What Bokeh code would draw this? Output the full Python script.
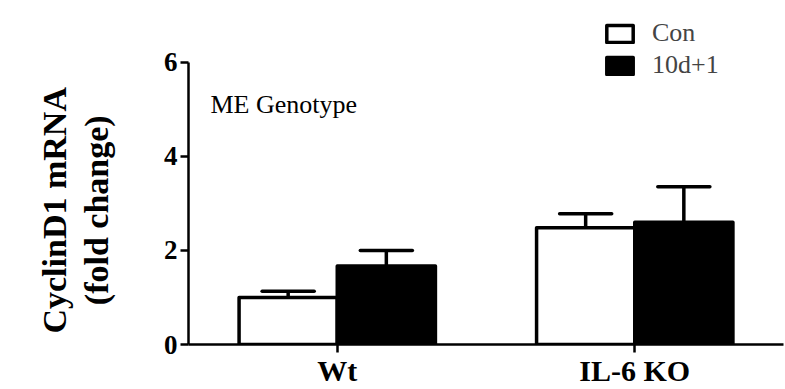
import math

from bokeh.plotting import figure
from bokeh.layouts import row
from bokeh.core.properties import value
from bokeh.models import (ColumnDataSource, FactorRange, Range1d, FixedTicker,
                          Label, Legend, LegendItem)
from bokeh.transform import dodge
from bokeh.embed import file_html
from bokeh.resources import INLINE

# Fold change of CyclinD1 mRNA by genotype (mean and SEM)
groups = ["Wt", "IL-6 KO"]
series_names = ["Con", "10d+1"]
con_mean = [1.0, 2.48]
con_sem = [0.13, 0.30]
trt_mean = [1.67, 2.60]
trt_sem = [0.33, 0.75]
y_ticks = [0, 2, 4, 6]
y_title = ["CyclinD1 mRNA", "(fold change)"]

SERIF = "Liberation Serif"
BAR_W = 0.33
CAP_HALF = 0.0875

H = 389
TITLE_W = 150          # strip holding the rotated y title
PLOT_W = 785 - TITLE_W
FRAME_BOTTOM = 346     # pixel row of y = 0
PX_PER_UNIT = (FRAME_BOTTOM - 62) / 6.0

src = ColumnDataSource(dict(
    g=groups,
    con=con_mean,
    con_hi=[m + s for m, s in zip(con_mean, con_sem)],
    trt=trt_mean,
    trt_hi=[m + s for m, s in zip(trt_mean, trt_sem)],
))

# ---- main chart -------------------------------------------------------------
p = figure(width=PLOT_W, height=H,
           x_range=FactorRange(*groups, range_padding=0),
           y_range=Range1d(0, FRAME_BOTTOM / PX_PER_UNIT),
           output_backend="svg", toolbar_location=None,
           min_border_left=38, min_border_right=2,
           min_border_top=0, min_border_bottom=H - FRAME_BOTTOM)
p.outline_line_color = None
p.xgrid.visible = False
p.ygrid.visible = False
p.background_fill_color = "white"
p.border_fill_color = "white"


def xoff(d):
    return dodge("g", d, range=p.x_range)


# error bars (upper half only)
for off, top, hi in ((-BAR_W / 2, "con", "con_hi"), (BAR_W / 2, "trt", "trt_hi")):
    p.segment(x0=xoff(off), x1=xoff(off), y0=top, y1=hi, source=src,
              line_color="black", line_width=3.5)
    p.segment(x0=xoff(off - CAP_HALF), x1=xoff(off + CAP_HALF), y0=hi, y1=hi,
              source=src, line_color="black", line_width=3.5, line_cap="round")

con_r = p.vbar(x=xoff(-BAR_W / 2), top="con", width=BAR_W, source=src,
               fill_color="white", line_color="black", line_width=3.5,
               line_join="round")
trt_r = p.vbar(x=xoff(BAR_W / 2), top="trt", width=BAR_W, source=src,
               fill_color="black", line_color="black", line_width=3.5,
               line_join="round")

# axes
p.yaxis.ticker = FixedTicker(ticks=y_ticks)
p.yaxis.bounds = (y_ticks[0], y_ticks[-1])
p.yaxis.minor_tick_line_color = None
for ax in (p.xaxis, p.yaxis):
    ax.major_tick_out = 8
    ax.major_tick_in = 0
    ax.axis_line_width = 2.5
    ax.major_tick_line_width = 2.5
    ax.axis_line_color = "black"
    ax.major_tick_line_color = "black"
    ax.major_label_text_font = SERIF
    ax.major_label_text_font_style = "bold"
    ax.major_label_text_color = "black"
p.yaxis.major_label_text_font_size = "27px"
p.yaxis.major_label_standoff = 3
p.xaxis.major_label_text_font_size = "30px"
p.xaxis.major_label_standoff = 1

p.add_layout(Label(x=22, y=FRAME_BOTTOM - 106, x_units="screen", y_units="screen",
                   text="ME Genotype", text_baseline="alphabetic",
                   text_font=SERIF, text_font_size="26px", text_color="black"))

legend = Legend(items=[LegendItem(label=series_names[0], renderers=[con_r]),
                       LegendItem(label=series_names[1], renderers=[trt_r])],
                location=(415, FRAME_BOTTOM - 82), glyph_width=33, glyph_height=21,
                label_text_font=SERIF, label_text_font_size="26px",
                label_standoff=16, label_height=21, spacing=2,
                padding=0, margin=0, border_line_color=None,
                background_fill_alpha=0)
p.add_layout(legend)

# ---- rotated two-line y title -------------------------------------------
# same frame height as the chart so the two frames line up in the row
t = figure(width=TITLE_W, height=H, x_range=Range1d(0, TITLE_W),
           y_range=Range1d(0, FRAME_BOTTOM),
           output_backend="svg", toolbar_location=None,
           min_border_left=0, min_border_right=0, min_border_top=0,
           min_border_bottom=H - FRAME_BOTTOM)
t.axis.visible = False
t.grid.visible = False
t.outline_line_color = None
t.background_fill_color = "white"
t.border_fill_color = "white"
t.text(x=[54, 96], y=[FRAME_BOTTOM - 211] * 2, text=y_title, angle=math.pi / 2,
       text_align="center", text_baseline="middle",
       text_font=value(SERIF), text_font_style="bold",
       text_font_size="34px", text_color="black")

layout = row(t, p, spacing=0)
open("out.html", "w").write(file_html(layout, INLINE))
